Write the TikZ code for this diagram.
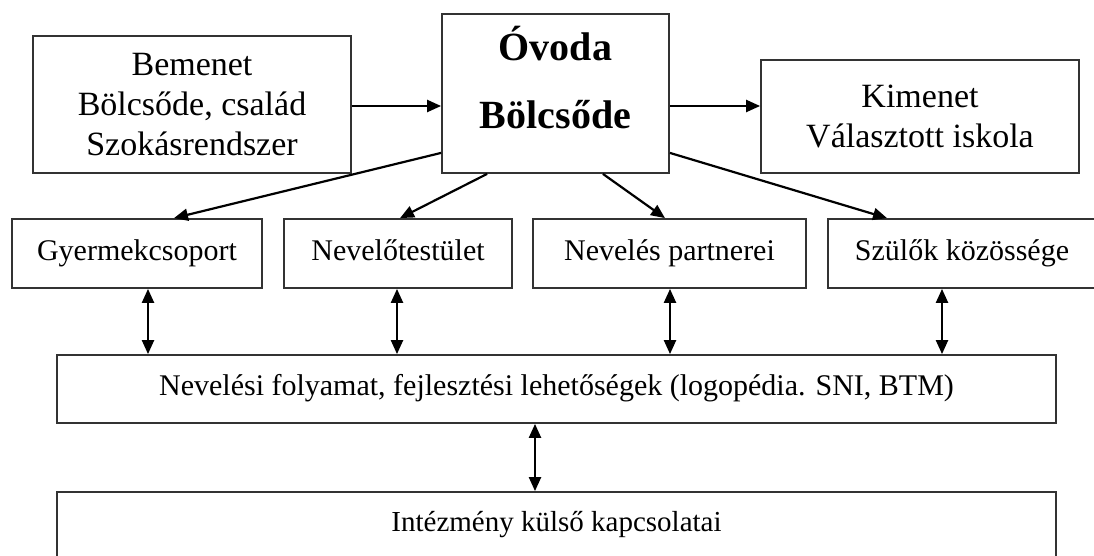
\documentclass[tikz,border=0pt]{standalone}
\usepackage{fontspec}
\setmainfont{Liberation Serif}
\usetikzlibrary{arrows.meta}

\begin{document}
\begin{tikzpicture}[x=1pt,y=-1pt,
  box/.style={draw=black!80,line width=1.8pt,inner sep=0pt,align=center},
  arr/.style={line width=2.2pt,-{Triangle[length=14pt,width=12pt]}},
  dbl/.style={line width=2.2pt,{Triangle[length=14pt,width=12pt]}-{Triangle[length=14pt,width=12pt]}},
  big/.style={font=\fontsize{34}{40}\selectfont},
  small/.style={font=\fontsize{30}{36}\selectfont,text height=22pt,text depth=9pt}]

  % 画布大小, 超出部分剪掉
  \useasboundingbox (0,0) rectangle (1094,556);
  \clip (0,0) rectangle (1094,556);

  % 第一行: 输入, 中心, 输出
  \node[box,big,minimum width=318pt,minimum height=137pt] (bemenet) at (192,104.5)
    {Bemenet\\Bölcsőde, család\\Szokásrendszer};
  \node[box,font=\bfseries\fontsize{40}{68}\selectfont,minimum width=227pt,
    minimum height=159pt,text depth=32pt] (ovoda) at (555.5,93.5) {Óvoda\\Bölcsőde};
  \node[box,big,minimum width=318pt,minimum height=113pt] (kimenet) at (920,116.5)
    {Kimenet\\Választott iskola};

  % 第二行
  \node[box,small,minimum width=250pt,minimum height=69pt] (gyermek) at (137,253.5) {Gyermekcsoport};
  \node[box,small,minimum width=228pt,minimum height=69pt] (nevelo) at (398,253.5) {Nevelőtestület};
  \node[box,small,minimum width=273pt,minimum height=69pt] (partner) at (669.5,253.5) {Nevelés partnerei};
  \node[box,small,minimum width=268pt,minimum height=69pt] (szulok) at (962,253.5) {Szülők közössége};

  % 下面两个长框
  \node[box,small,minimum width=999pt,minimum height=68pt] (folyamat) at (556.5,389)
    {Nevelési folyamat, fejlesztési lehetőségek (logopédia. SNI, BTM)};
  \node[box,small,font=\fontsize{29}{35}\selectfont,minimum width=999pt,minimum height=66pt] (intezmeny) at (556.5,525)
    {Intézmény külső kapcsolatai};

  % 水平箭头
  \draw[arr] ([yshift=-1.5pt]bemenet.east) -- ([yshift=-1.5pt]bemenet.east -| ovoda.west);
  \draw[arr] ([yshift=-12.5pt]ovoda.east) -- ([yshift=-12.5pt]ovoda.east -| kimenet.west);

  % 从中心向下的斜箭头
  \draw[arr] ([yshift=21pt]ovoda.south west) -- ([xshift=37pt]gyermek.north);
  \draw[arr] ([xshift=46pt]ovoda.south west) -- ([xshift=2pt]nevelo.north);
  \draw[arr] ([xshift=-67pt]ovoda.south east) -- ([xshift=-4.5pt]partner.north);
  \draw[arr] ([yshift=21pt]ovoda.south east) -- ([xshift=-75pt]szulok.north);

  % 双向箭头
  \foreach \n/\dx in {gyermek/11,nevelo/-1,partner/0.5,szulok/-20}
    \draw[dbl] ([xshift=\dx pt]\n.south) -- ([xshift=\dx pt]\n.south |- folyamat.north);
  \draw[dbl] ([xshift=-21.5pt]folyamat.south) -- ([xshift=-21.5pt]folyamat.south |- intezmeny.north);

\end{tikzpicture}
\end{document}
